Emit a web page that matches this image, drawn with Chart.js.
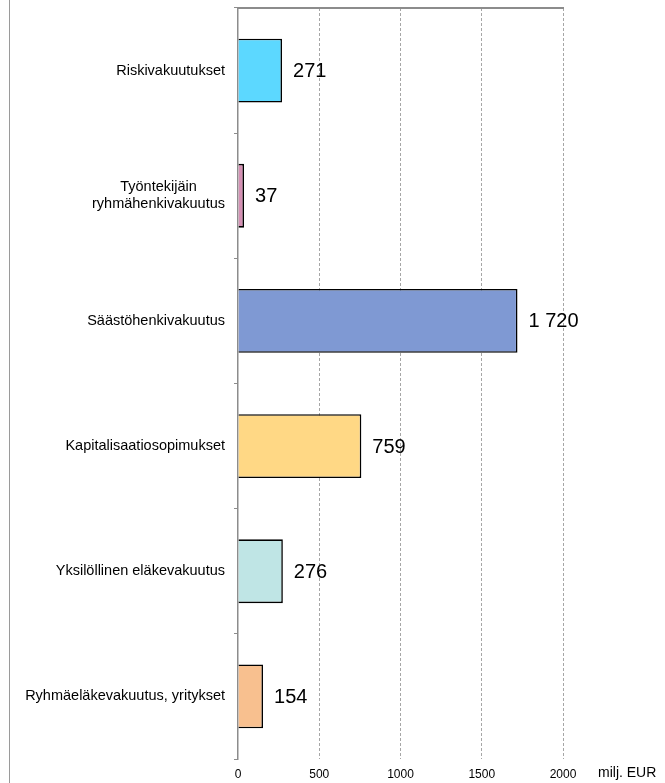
<!DOCTYPE html>
<html>
<head>
<meta charset="utf-8">
<script src="https://cdn.jsdelivr.net/npm/chart.js@4"></script>
<style>
  html, body { margin: 0; padding: 0; background: #fff; }
  #wrap { position: relative; width: 665px; height: 783px; }
  #frame { position: absolute; left: 9px; top: 0; width: 1px; height: 783px; background: #9a9a9a; }
</style>
</head>
<body>
<div id="wrap">
  <div id="frame"></div>
  <canvas id="chart" width="665" height="783"></canvas>
</div>
<script>
const categories = [
  ['Riskivakuutukset'],
  ['Työntekijäin', 'ryhmähenkivakuutus'],
  ['Säästöhenkivakuutus'],
  ['Kapitalisaatiosopimukset'],
  ['Yksilöllinen eläkevakuutus'],
  ['Ryhmäeläkevakuutus, yritykset']
]
const values = [271, 37, 1720, 759, 276, 154]
const barColors = ['#5cd8ff', '#d590b4', '#7f99d3', '#ffd885', '#bfe5e5', '#f8c08f']
const xTicks = [0, 500, 1000, 1500, 2000]
const unitLabel = 'milj. EUR'

function formatValue(v) {
  return String(v).replace(/\B(?=(\d{3})+(?!\d))/g, ' ')
}

const valueLabels = {
  id: 'valueLabels',
  afterDatasetsDraw(chart) {
    const ctx = chart.ctx
    const meta = chart.getDatasetMeta(0)
    ctx.save()
    ctx.font = '20px "Liberation Sans", Arial, sans-serif'
    ctx.fillStyle = '#000'
    ctx.textAlign = 'left'
    ctx.textBaseline = 'middle'
    meta.data.forEach((bar, i) => {
      ctx.fillText(formatValue(values[i]), bar.x + 11, bar.y + 1)
    })
    ctx.restore()
  }
}

const categoryLabels = {
  id: 'categoryLabels',
  afterDraw(chart) {
    const ctx = chart.ctx
    const y = chart.scales.y
    const x = chart.scales.x
    const right = chart.chartArea.left - 13
    const lineH = 17
    ctx.save()
    ctx.font = '14.5px "Liberation Sans", Arial, sans-serif'
    ctx.fillStyle = '#000'
    ctx.textBaseline = 'middle'
    categories.forEach((lines, i) => {
      const cy = y.getPixelForValue(i)
      const maxW = Math.max(...lines.map(l => ctx.measureText(l).width))
      const cx = right - maxW / 2
      ctx.textAlign = 'center'
      lines.forEach((l, j) => {
        ctx.fillText(l, cx, cy + (j - (lines.length - 1) / 2) * lineH)
      })
    })
    // unit label next to the last x tick
    ctx.font = '14px "Liberation Sans", Arial, sans-serif'
    ctx.textAlign = 'left'
    ctx.fillText(unitLabel, x.getPixelForValue(2000) + 35, chart.chartArea.bottom + 14)
    ctx.restore()
  }
}

new Chart(document.getElementById('chart'), {
  type: 'bar',
  data: {
    labels: categories.map(c => c.join(' ')),
    datasets: [{
      data: values,
      backgroundColor: barColors,
      borderColor: '#000',
      borderWidth: 1.6,
      categoryPercentage: 1,
      barPercentage: 0.51
    }]
  },
  options: {
    indexAxis: 'y',
    responsive: false,
    animation: false,
    layout: { padding: { left: 0, right: 102, top: 8, bottom: 0 } },
    plugins: { legend: { display: false }, tooltip: { enabled: false } },
    scales: {
      x: {
        position: 'bottom',
        min: 0,
        max: 2000,
        afterBuildTicks: s => { s.ticks = xTicks.map(v => ({ value: v })) },
        afterFit: s => { s.height = 24 },
        grid: {
          color: ctx => ctx.tick && ctx.tick.value === 0 ? 'rgba(0,0,0,0)' : '#a6a6a6',
          lineWidth: 1,
          drawTicks: false
        },
        border: { display: false, dash: [3, 2] },
        ticks: {
          color: '#000',
          padding: 8,
          callback: v => String(v),
          font: { family: '"Liberation Sans", Arial, sans-serif', size: 12 }
        }
      },
      x2: {
        type: 'linear',
        position: 'top',
        min: 0,
        max: 2000,
        afterFit: s => { s.height = 0 },
        grid: { display: false },
        ticks: { display: false },
        border: { display: true, color: '#8c8c8c', width: 2 }
      },
      y: {
        afterFit: s => { s.width = 238 },
        grid: {
          display: true,
          drawOnChartArea: false,
          drawTicks: true,
          tickLength: 4,
          offset: true,
          color: '#8c8c8c'
        },
        border: { display: true, color: '#8c8c8c', width: 1.5 },
        ticks: { display: false }
      }
    }
  },
  plugins: [valueLabels, categoryLabels]
})
</script>
</body>
</html>
